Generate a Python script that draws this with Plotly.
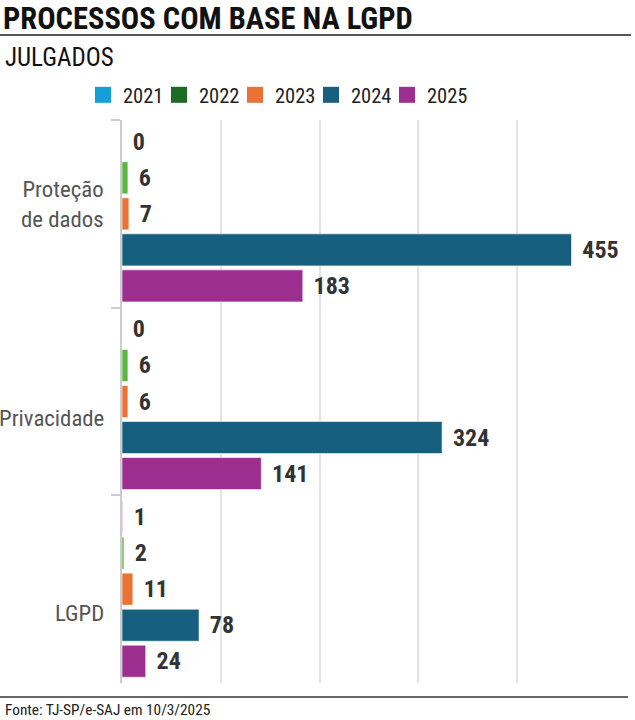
import plotly.graph_objects as go

categories = ["Proteção de dados", "Privacidade", "LGPD"]
category_labels = ["Proteção<br>de dados", "Privacidade", "LGPD"]
years = ["2021", "2022", "2023", "2024", "2025"]
values = {
    "2021": [0, 0, 1],
    "2022": [6, 6, 2],
    "2023": [7, 6, 11],
    "2024": [455, 324, 78],
    "2025": [183, 141, 24],
}
legend_colors = {"2021": "#139fd8", "2022": "#1b6b25", "2023": "#ea7233", "2024": "#175f7f", "2025": "#9c2e8f"}
bar_colors = {"2021": "#e2a9dc", "2022": "#5bb543", "2023": "#ea7233", "2024": "#175f7f", "2025": "#9c2e8f"}
label_yshift = [9, -17, -24]

FONT = "Roboto Condensed, Open Sans Condensed, sans-serif"

W, H = 635, 720
ML, MR, MT, MB = 122, 19, 120, 37
PW, PH = W - ML - MR, H - MT - MB

def px_x(p):
    return (p - ML) / PW

def px_y(p):
    return (H - MB - p) / PH

fig = go.Figure()
for yr in years:
    fig.add_trace(go.Bar(
        y=categories, x=values[yr], orientation="h", name=yr,
        marker=dict(color=bar_colors[yr], line=dict(color="rgba(255,255,255,0.6)", width=1)),
        text=["\u2006\u2006" + str(v) for v in values[yr]], textposition="outside", cliponaxis=False,
        textfont=dict(family=FONT, size=24, color="#333333", weight="bold"),
        showlegend=False, hoverinfo="x+name",
    ))
for yr in years:
    fig.add_trace(go.Scatter(
        x=[None], y=[None], mode="markers", name=yr,
        marker=dict(symbol="square", size=16, color=legend_colors[yr]),
        showlegend=True,
    ))
# invisible spacer entry so the last legend label is not clipped
fig.add_trace(go.Scatter(x=[None], y=[None], mode="markers", name=" ",
                         marker=dict(symbol="square", size=16, color="rgba(0,0,0,0)"),
                         showlegend=True, hoverinfo="skip"))

fig.update_layout(
    width=W, height=H,
    margin=dict(l=ML, r=MR, t=MT, b=MB),
    paper_bgcolor="white", plot_bgcolor="white",
    barmode="group", bargap=0.04, bargroupgap=0.11,
    font=dict(family=FONT, color="#333333"),
    legend=dict(orientation="h", x=px_x(83), xanchor="left", y=px_y(95), yanchor="middle",
                entrywidth=31, entrywidthmode="pixels",
                font=dict(family=FONT, size=20.5, color="#222222"),
                itemclick=False, tracegroupgap=0, bgcolor="rgba(0,0,0,0)"),
    xaxis=dict(range=[0, 500], dtick=100, showticklabels=False, showgrid=True,
               gridcolor="#e3e3e3", gridwidth=1.5, zeroline=False, showline=False, fixedrange=True),
    yaxis=dict(autorange="reversed", tickson="boundaries", ticks="outside", ticklen=9,
               tickcolor="#cccccc", tickwidth=1.5, showline=True, linecolor="#cccccc", linewidth=1.5,
               showticklabels=False, automargin=False, showgrid=False, fixedrange=True),
    title=dict(text="<b>PROCESSOS COM BASE NA LGPD</b>", x=3 / W, xanchor="left",
               y=1 - 18 / H, yanchor="middle",
               font=dict(family=FONT, size=30.5, color="#111111")),
)

for cat, lab, ys in zip(categories, category_labels, label_yshift):
    fig.add_annotation(text=lab, xref="paper", yref="y", x=px_x(106), xanchor="right",
                       y=cat, yanchor="middle", yshift=ys, showarrow=False, align="right",
                       font=dict(family=FONT, size=22.8, color="#555555"))

fig.add_shape(type="line", xref="paper", yref="paper", x0=px_x(0), x1=px_x(631),
              y0=px_y(35), y1=px_y(35), line=dict(color="#555555", width=2))
fig.add_shape(type="line", xref="paper", yref="paper", x0=px_x(0), x1=px_x(628),
              y0=px_y(697), y1=px_y(697), line=dict(color="#666666", width=2))
fig.add_annotation(text="JULGADOS", xref="paper", yref="paper", x=px_x(3), xanchor="left",
                   y=px_y(58), yanchor="middle", showarrow=False,
                   font=dict(family=FONT, size=25, color="#111111"))
fig.add_annotation(text="Fonte: TJ-SP/e-SAJ em 10/3/2025", xref="paper", yref="paper",
                   x=px_x(3), xanchor="left", y=px_y(710), yanchor="middle", showarrow=False,
                   font=dict(family=FONT, size=15.3, color="#222222"))

fig.write_html("out.html")
